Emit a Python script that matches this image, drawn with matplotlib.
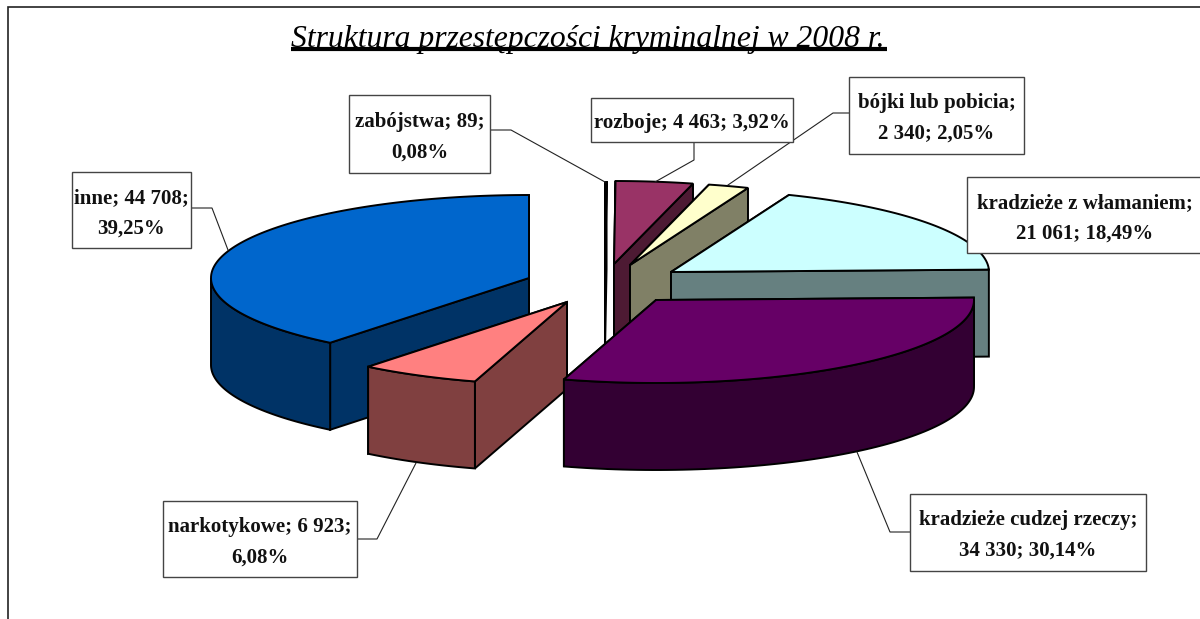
import matplotlib
matplotlib.use("Agg")
import matplotlib.pyplot as plt
import numpy as np
from matplotlib.patches import Polygon, Rectangle

names = ["zabójstwa", "rozboje", "bójki lub pobicia", "kradzieże z włamaniem",
         "kradzieże cudzej rzeczy", "narkotykowe", "inne"]
values = [89, 4463, 2340, 21061, 34330, 6923, 44708]
top_colors = ["#FFFFFF", "#993366", "#FFFFCC", "#CCFFFF", "#660066", "#FF8080", "#0066CC"]
side_colors = ["#808080", "#4D1A33", "#808066", "#668080", "#330033", "#804040", "#003366"]
labels = ["zabójstwa; 89;\n0,08%", "rozboje; 4 463; 3,92%", "bójki lub pobicia;\n2 340; 2,05%",
          "kradzieże z włamaniem;\n21 061; 18,49%", "kradzieże cudzej rzeczy;\n34 330; 30,14%",
          "narkotykowe; 6 923;\n6,08%", "inne; 44 708;\n39,25%"]

# pixel layout of the exploded pie
rx, ry, depth = 318, 83, 87
apex = [(605, 265), (614, 264), (630, 265), (671, 272), (656, 300), (567, 302), (529, 278)]
boxes = [(349, 95, 490, 173), (591, 98, 793, 142), (849, 77, 1024, 154), (967, 177, 1204, 253),
         (910, 494, 1146, 571), (163, 501, 357, 577), (72, 172, 191, 248)]
leaders = [[(490, 130), (511, 130), (605, 182)],
           [(694, 142), (694, 160), (655, 182)],
           [(849, 113), (833, 113), (728, 185)],
           [],
           [(910, 532), (890, 532), (857, 452)],
           [(357, 539), (377, 539), (416, 463)],
           [(191, 208), (212, 208), (228, 250)]]

fig = plt.figure(figsize=(12, 6.19), dpi=100)
ax = fig.add_axes([0, 0, 1, 1])
ax.set_xlim(0, 1200)
ax.set_ylim(619, 0)
ax.axis("off")

ax.add_patch(Rectangle((8, 7), 1300, 800, fc="white", ec="#222222", lw=1.2, zorder=0))

angles = np.concatenate([[0], np.cumsum(values)]) / sum(values) * 2 * np.pi


def rim(c, a):
    return np.column_stack([c[0] + rx * np.sin(a), c[1] - ry * np.cos(a)])


def wall(c, a, color, z):
    p = rim(c, np.array([a]))[0]
    pts = [c, p, (p[0], p[1] + depth), (c[0], c[1] + depth)]
    ax.add_patch(Polygon(pts, fc=color, ec="black", lw=1.4, joinstyle="miter", zorder=z))


# back to front, the murder sliver first and the big purple slice last
order = [0, 1, 2, 3, 6, 5, 4]
for n, i in enumerate(order):
    a0, a1 = angles[i], angles[i + 1]
    c = apex[i]
    z = 2 + n
    if a0 < np.pi:
        wall(c, a0, side_colors[i], z)
        wall(c, a1, side_colors[i], z)
    else:
        wall(c, a1, side_colors[i], z)
        wall(c, a0, side_colors[i], z)
    lo, hi = max(a0, np.pi / 2), min(a1, 1.5 * np.pi)
    if hi > lo:
        arc = rim(c, np.linspace(lo, hi, 80))
        low = arc + [0, depth]
        ax.add_patch(Polygon(np.vstack([arc, low[::-1]]), fc=side_colors[i], ec="black", lw=1.4, zorder=z))
    edge = rim(c, np.linspace(a0, a1, 120))
    ax.add_patch(Polygon(np.vstack([[c], edge]), fc=top_colors[i], ec="black", lw=1.4,
                         joinstyle="miter", zorder=z))

for pts in leaders:
    if pts:
        ax.plot(*zip(*pts), color="#222222", lw=0.8, zorder=20)

for lab, (x0, y0, x1, y1) in zip(labels, boxes):
    ax.add_patch(Rectangle((x0, y0), x1 - x0, y1 - y0, fc="white", ec="#444444", lw=1.0, zorder=21))
    ax.text((x0 + x1) / 2 - (1 if x1 > 1200 else 0), (y0 + y1) / 2 + 3, lab, ha="center", va="center",
            family="Liberation Serif", weight="bold", fontsize=15, linespacing=1.72,
            color="#111111", zorder=22)

ax.text(291, 47, "Struktura przestępczości kryminalnej w 2008 r.", ha="left", va="baseline",
        family="Liberation Serif", style="italic", fontsize=22.8, color="black", zorder=22)
ax.plot([291, 887], [49, 49], color="black", lw=3, solid_capstyle="butt", zorder=23)

fig.savefig("out.png", dpi=100)
